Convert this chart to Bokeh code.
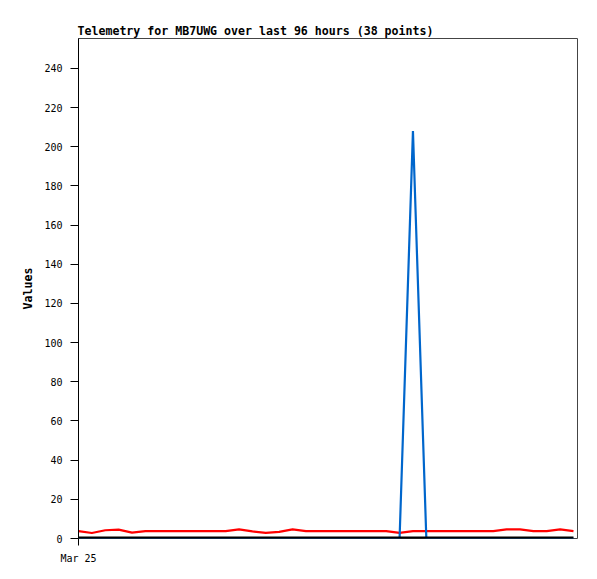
from bokeh.plotting import figure
from bokeh.embed import file_html
from bokeh.resources import INLINE
from bokeh.models import Range1d, FixedTicker

# ---- data (38 telemetry points over 96 hours) ----
point_index = list(range(38))
series_red = [3.8, 2.8, 4.2, 4.5, 3.0, 3.8, 3.8, 3.8, 3.8, 3.8,
              3.8, 3.8, 4.7, 3.6, 2.9, 3.4, 4.7, 3.8, 3.8, 3.8,
              3.8, 3.8, 3.8, 3.8, 2.9, 3.8, 3.8, 3.8, 3.8, 3.8,
              3.8, 3.8, 4.7, 4.7, 3.8, 3.8, 4.7, 3.8]
series_blue = [0]*25 + [208] + [0]*12
series_black = [0]*38
y_ticks = [0, 20, 40, 60, 80, 100, 120, 140, 160, 180, 200, 220, 240]
x_tick_labels = {0: "Mar 25"}
title_text = "Telemetry for MB7UWG over last 96 hours (38 points)"

MONO = "DejaVu Sans Mono"

p = figure(width=589, height=571, output_backend="svg", toolbar_location=None,
           x_range=Range1d(0, 37.3), y_range=Range1d(0, 255.3),
           min_border_left=78, min_border_right=12, min_border_top=38,
           min_border_bottom=33)

p.title.text = title_text
p.title.text_font = MONO
p.title.text_font_size = "11.6px"
p.title.text_font_style = "bold"
p.title.text_color = "#000000"
p.title.align = "left"
p.title.standoff = 1
p.title.offset = -1

p.outline_line_color = "#444444"
p.outline_line_width = 1
p.xgrid.visible = False
p.ygrid.visible = False

p.line(point_index, series_red, line_color="#ff0000", line_width=2.2)
p.line(point_index, series_blue, line_color="#0066cc", line_width=2.2)
p.line(point_index, series_black, line_color="#000000", line_width=4)

# y axis
p.yaxis.ticker = FixedTicker(ticks=y_ticks)
p.yaxis.minor_tick_line_color = None
p.yaxis.major_tick_out = 8
p.yaxis.major_tick_in = 0
p.yaxis.major_label_standoff = 8
p.yaxis.major_label_text_font = MONO
p.yaxis.major_label_text_font_size = "10px"
p.yaxis.major_label_text_color = "#000000"
p.yaxis.axis_line_color = "#000000"
p.yaxis.major_tick_line_color = "#000000"
p.yaxis.axis_label = "Values"
p.yaxis.axis_label_text_font = MONO
p.yaxis.axis_label_text_font_size = "11.6px"
p.yaxis.axis_label_text_font_style = "bold"
p.yaxis.axis_label_text_color = "#000000"
p.yaxis.axis_label_standoff = 6

# x axis
p.xaxis.ticker = FixedTicker(ticks=list(x_tick_labels.keys()))
p.xaxis.major_label_overrides = x_tick_labels
p.xaxis.minor_tick_line_color = None
p.xaxis.major_tick_out = 7
p.xaxis.major_tick_in = 0
p.xaxis.major_label_standoff = 7
p.xaxis.major_label_text_font = MONO
p.xaxis.major_label_text_font_size = "10px"
p.xaxis.major_label_text_color = "#000000"
p.xaxis.axis_line_color = None
p.xaxis.major_tick_line_color = "#000000"

open("out.html", "w").write(file_html(p, INLINE))
